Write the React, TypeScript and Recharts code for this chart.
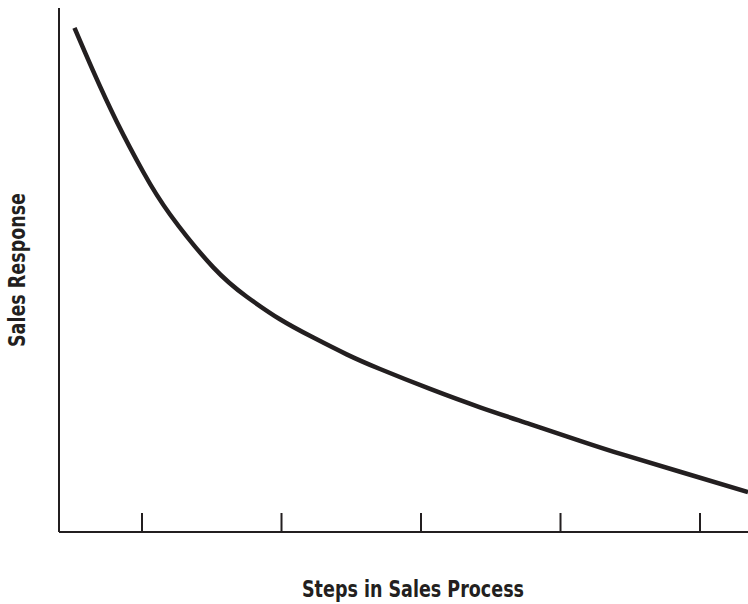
import { LineChart, Line, XAxis, YAxis, Label } from 'recharts';

// Steps in the sales process (x) and sales response (y)
const steps = [0.516, 0.651, 0.819, 1.009, 1.201, 1.511, 1.751, 1.989, 2.228, 2.467, 2.706, 3.065, 3.423, 3.781, 4.14, 4.455, 4.857, 5.344];
const response = [96.2, 87.9, 78.3, 68.7, 60.6, 50.5, 44.9, 40.6, 37.1, 33.9, 31.1, 27.3, 23.8, 20.6, 17.4, 14.7, 11.5, 7.6];
const stepTicks = [1, 2, 3, 4, 5];

const data = steps.map((s, i) => ({ step: s, response: response[i] }));

const INK = '#231f20';
const FONT = '"Liberation Sans Narrow", "DejaVu Sans Condensed", "Roboto Condensed", sans-serif';

const YTitle = () => (
  <text
    x={25}
    y={270}
    transform="rotate(-90 25 270)"
    textAnchor="middle"
    fill={INK}
    fontFamily={FONT}
    fontWeight="bold"
    fontSize={23}
    textLength={154}
    lengthAdjust="spacingAndGlyphs"
  >
    Sales Response
  </text>
);

const XTitle = () => (
  <text
    x={413}
    y={597}
    textAnchor="middle"
    fill={INK}
    fontFamily={FONT}
    fontWeight="bold"
    fontSize={23}
    textLength={222}
    lengthAdjust="spacingAndGlyphs"
  >
    Steps in Sales Process
  </text>
);

const App = () => {
  return (
    <div style={{ position: 'absolute', left: 0, top: 0, background: '#fff' }}>
      <LineChart width={748} height={604} data={data} margin={{ top: 8, right: 0, left: 0, bottom: 72 }}>
        <XAxis
          dataKey="step"
          type="number"
          domain={[0.405, 5.344]}
          ticks={stepTicks}
          allowDataOverflow
          mirror
          tickSize={19}
          tickFormatter={() => ''}
          axisLine={{ stroke: INK, strokeWidth: 2 }}
          tickLine={{ stroke: INK, strokeWidth: 2 }}
        >
          <Label content={<XTitle />} />
        </XAxis>
        <YAxis
          type="number"
          domain={[0, 100]}
          width={59}
          tick={false}
          tickLine={false}
          axisLine={{ stroke: INK, strokeWidth: 2 }}
        >
          <Label content={<YTitle />} />
        </YAxis>
        <Line
          type="natural"
          dataKey="response"
          stroke={INK}
          strokeWidth={4.5}
          dot={false}
          isAnimationActive={false}
        />
      </LineChart>
    </div>
  );
};

export default App;
